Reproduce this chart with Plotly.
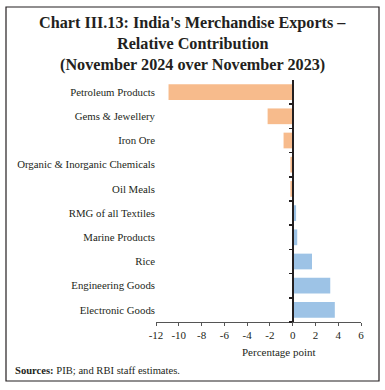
import plotly.graph_objects as go

categories = ["Petroleum Products", "Gems & Jewellery", "Iron Ore",
              "Organic & Inorganic Chemicals", "Oil Meals", "RMG of all Textiles",
              "Marine Products", "Rice", "Engineering Goods", "Electronic Goods"]
values = [-10.9, -2.2, -0.8, -0.2, -0.2, 0.3, 0.4, 1.7, 3.3, 3.7]
x_ticks = [-12, -10, -8, -6, -4, -2, 0, 2, 4, 6]
x_tick_labels = ["-12", "-10", "-8", "-6", "-4", "-2", "0", "2", "4", "6"]
title_lines = ["Chart III.13: India's Merchandise Exports –",
               "Relative Contribution",
               "(November 2024 over November 2023)"]

ORANGE = "#F7BB8C"
BLUE = "#9DC3E6"
SERIF = "Liberation Serif, DejaVu Serif, serif"
INK = "#231F20"

W, H = 385, 390
L, R, T, B = 156, 24, 80, 68
pw, ph = W - L - R, H - T - B

def px(x):
    return (x - L) / pw

def py(y):
    return (H - B - y) / ph

colors = [ORANGE if v < 0 else BLUE for v in values]

fig = go.Figure()
fig.add_trace(go.Bar(
    x=values, y=categories, orientation="h",
    marker=dict(color=colors, line=dict(width=0)),
    width=0.65, hoverinfo="skip", showlegend=False,
))
n = len(categories)
fig.add_trace(go.Scatter(
    x=[0], y=[0], yaxis="y2", mode="markers",
    marker=dict(opacity=0), hoverinfo="skip", showlegend=False,
))

annotations = []
for line, yy in zip(title_lines, [23, 44, 65]):
    annotations.append(dict(
        text="<b>%s</b>" % line, x=px(W / 2), y=py(yy), xref="paper", yref="paper",
        showarrow=False, xanchor="center", yanchor="middle",
        font=dict(family=SERIF, size=16.2, color=INK)))
annotations += [
    dict(text="Percentage point", x=px(279), y=py(352), xref="paper", yref="paper",
         showarrow=False, xanchor="center", yanchor="middle",
         font=dict(family=SERIF, size=11, color=INK)),
    dict(text="<b>Sources:</b> PIB; and RBI staff estimates.", x=px(13), y=py(370),
         xref="paper", yref="paper", showarrow=False, xanchor="left", yanchor="middle",
         font=dict(family=SERIF, size=10.6, color=INK)),
]

fig.update_layout(
    width=W, height=H,
    margin=dict(l=L, r=R, t=T, b=B),
    paper_bgcolor="white", plot_bgcolor="white",
    font=dict(family=SERIF, color=INK),
    xaxis=dict(
        range=[-12, 6], tickvals=x_ticks, ticktext=x_tick_labels,
        showgrid=False, zeroline=False, showline=True,
        linecolor="#555555", linewidth=1,
        ticks="outside", ticklen=3, tickcolor="#555555", tickwidth=1,
        tickfont=dict(family=SERIF, size=11, color=INK),
        fixedrange=True,
    ),
    yaxis=dict(
        type="category", categoryorder="array", categoryarray=categories,
        range=[n - 0.5, -0.5],
        showgrid=False, zeroline=False, showline=False, ticks="",
        tickfont=dict(family=SERIF, size=10.8, color=INK),
        fixedrange=True,
    ),
    yaxis2=dict(
        overlaying="y", anchor="free", position=12 / 18,
        range=[n - 0.5, -0.5],
        tickvals=[i + 0.5 for i in range(n)],
        showticklabels=False, showgrid=False, zeroline=False,
        showline=True, linecolor=INK, linewidth=2,
        ticks="outside", ticklen=3, tickcolor=INK, tickwidth=1.5,
        fixedrange=True,
    ),
    annotations=annotations,
    shapes=[
        dict(type="rect", xref="paper", yref="paper",
             x0=px(6), x1=px(379), y0=py(381), y1=py(7),
             line=dict(color=INK, width=1.2), fillcolor="rgba(0,0,0,0)", layer="above"),
    ],
)

fig.write_html("out.html", config={"displayModeBar": False, "staticPlot": True},
               post_script="document.body.style.margin='0';document.body.style.overflow='hidden';")
